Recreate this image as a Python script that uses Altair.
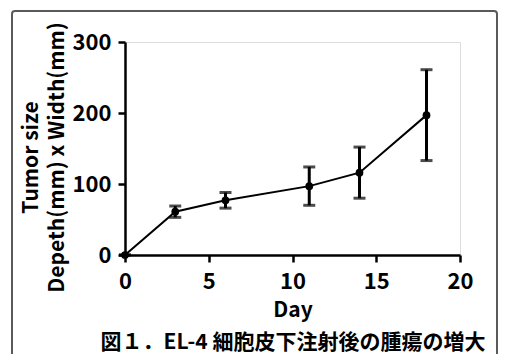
import altair as alt
import pandas as pd

days = [0, 3, 6, 11, 14, 18]
means = [0, 61, 77, 97, 116, 197]
errs = [0, 8, 11, 27, 36, 64]

x_ticks = [0, 5, 10, 15, 20]
y_ticks = [0, 100, 200, 300]

x_title = ["Day", "図１．EL-4 細胞皮下注射後の腫瘍の増大"]
y_title = ["Tumor size", "Depeth(mm) x Width(mm)"]

df = pd.DataFrame({"day": days, "mean": means, "err": errs})
df["lo"] = df["mean"] - df["err"]
df["hi"] = df["mean"] + df["err"]

FONT = "Noto Sans CJK JP"

x = alt.X("day:Q", scale=alt.Scale(domain=[0, 20], nice=False),
          axis=alt.Axis(values=x_ticks, title=x_title, grid=False,
                        domainColor="black", domainWidth=2.5, tickColor="black",
                        tickWidth=2.5, tickSize=7, labelFontSize=22, labelFont=FONT,
                        labelFontWeight="bold", labelColor="black", labelPadding=9,
                        titleFont=FONT, titleFontSize=21, titleFontWeight="bold",
                        titleColor="black", titlePadding=7, titleLineHeight=32,
                        labelFlush=False))
y = alt.Y("mean:Q", scale=alt.Scale(domain=[0, 300], nice=False),
          axis=alt.Axis(values=y_ticks, title=y_title,
                        grid=False, domainColor="black", domainWidth=2.5,
                        tickColor="black", tickWidth=2.5, tickSize=7, labelFontSize=22,
                        labelFont=FONT, labelFontWeight="bold", labelColor="black",
                        labelPadding=7, titleFont=FONT, titleFontSize=21,
                        titleFontWeight="bold", titleColor="black", titlePadding=5,
                        titleLineHeight=26, titleY=115, labelFlush=False))

base = alt.Chart(df)
line = base.mark_line(color="black", strokeWidth=2).encode(x=x, y=y)
pts = base.mark_point(filled=True, color="black", size=60, opacity=1).encode(x="day:Q", y="mean:Q")
bars = base.mark_rule(color="black", strokeWidth=3).encode(x="day:Q", y="lo:Q", y2="hi:Q")
cap_hi = base.mark_tick(color="black", thickness=3, size=12, orient="horizontal").encode(x="day:Q", y="hi:Q")
cap_lo = base.mark_tick(color="black", thickness=3, size=12, orient="horizontal").encode(x="day:Q", y="lo:Q")

frame = alt.Chart(pd.DataFrame({"f": [0]})).mark_rect(
    fillOpacity=0, stroke="#5a5a5a", strokeWidth=2, cornerRadius=3
).encode(x=alt.value(-113), x2=alt.value(372), y=alt.value(-31), y2=alt.value(330))

chart = alt.layer(frame, line, bars, cap_hi, cap_lo, pts).properties(
    width=335, height=213,
    autosize=alt.AutoSizeParams(type="none"),
    padding={"left": 117, "top": 34, "right": 38, "bottom": 99},
).configure_view(stroke=None).configure(background="white")

chart.save("out.html", embed_options={"renderer": "svg", "actions": False})
